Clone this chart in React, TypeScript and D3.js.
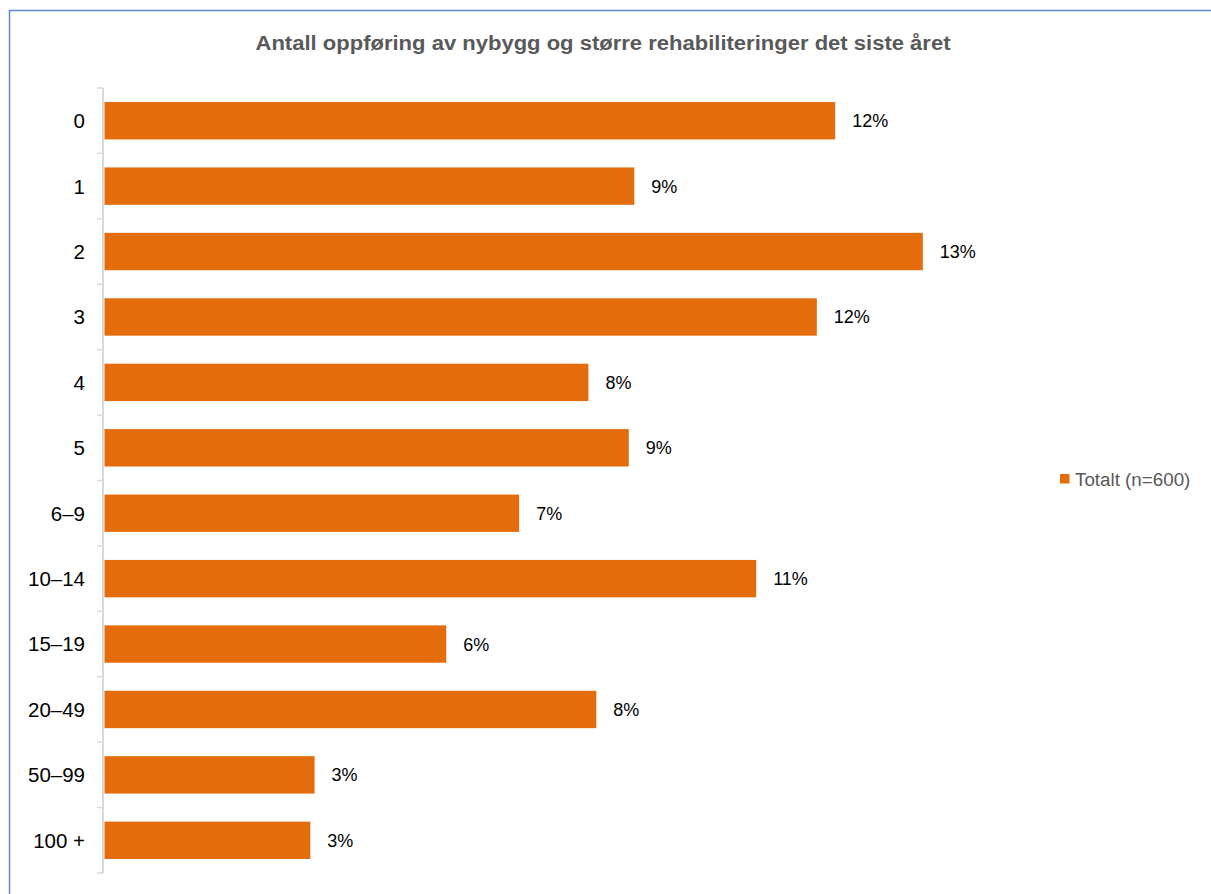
import React from "react";
import * as d3 from "d3";

const categories = ["0", "1", "2", "3", "4", "5", "6–9", "10–14", "15–19", "20–49", "50–99", "100 +"];
const values = [11.93, 8.65, 13.36, 11.63, 7.9, 8.56, 6.77, 10.64, 5.58, 8.03, 3.43, 3.36];
const labels = ["12%", "9%", "13%", "12%", "8%", "9%", "7%", "11%", "6%", "8%", "3%", "3%"];
const seriesName = "Totalt (n=600)";
const title = "Antall oppføring av nybygg og større rehabiliteringer det siste året";

const W = 1211;
const H = 894;
const FONT = "'Liberation Sans', Arial, sans-serif";
const ORANGE = "#E46C0A";

export default function App() {
  const x = d3.scaleLinear().domain([0, 14]).range([104.5, 104.5 + 14 * 61.25]);
  const y = d3.scaleBand<string>().domain(categories).range([88, 873]).paddingInner(0.4286).paddingOuter(0.2143);
  const step = y.step();
  const bounds = d3.range(categories.length + 1).map((i) => 88 + i * step);
  return (
    <svg width={W} height={H} style={{ position: "absolute", left: 0, top: 0, background: "#fff" }} fontFamily={FONT}>
      <rect x={9.5} y={10.5} width={1230} height={900} fill="#fff" stroke="#5B8BD0" strokeWidth={1.5} />
      <text x={603} y={50} textAnchor="middle" fontSize={20} fontWeight="bold" fill="#595959" textLength={695} lengthAdjust="spacingAndGlyphs">{title}</text>
      {categories.map((c, i) => (
        <g key={c}>
          <rect x={x(0)} y={y(c)!} width={x(values[i]) - x(0)} height={y.bandwidth()} fill={ORANGE} />
          <text x={85} y={y(c)! + y.bandwidth() / 2} dy="0.36em" textAnchor="end" fontSize={20.5} fill="#000">{c}</text>
          <text x={x(values[i]) + 17} y={y(c)! + y.bandwidth() / 2} dy="0.36em" fontSize={18} fill="#000">{labels[i]}</text>
        </g>
      ))}
      <line x1={103} x2={103} y1={88} y2={873} stroke="#D9D9D9" strokeWidth={2} />
      {bounds.map((b, i) => (
        <line key={i} x1={97} x2={103} y1={b} y2={b} stroke="#D9D9D9" strokeWidth={1.5} />
      ))}
      <rect x={1060} y={474} width={9.5} height={9.5} fill={ORANGE} />
      <text x={1075} y={479} dy="0.36em" fontSize={18.8} fill="#595959">{seriesName}</text>
    </svg>
  );
}
